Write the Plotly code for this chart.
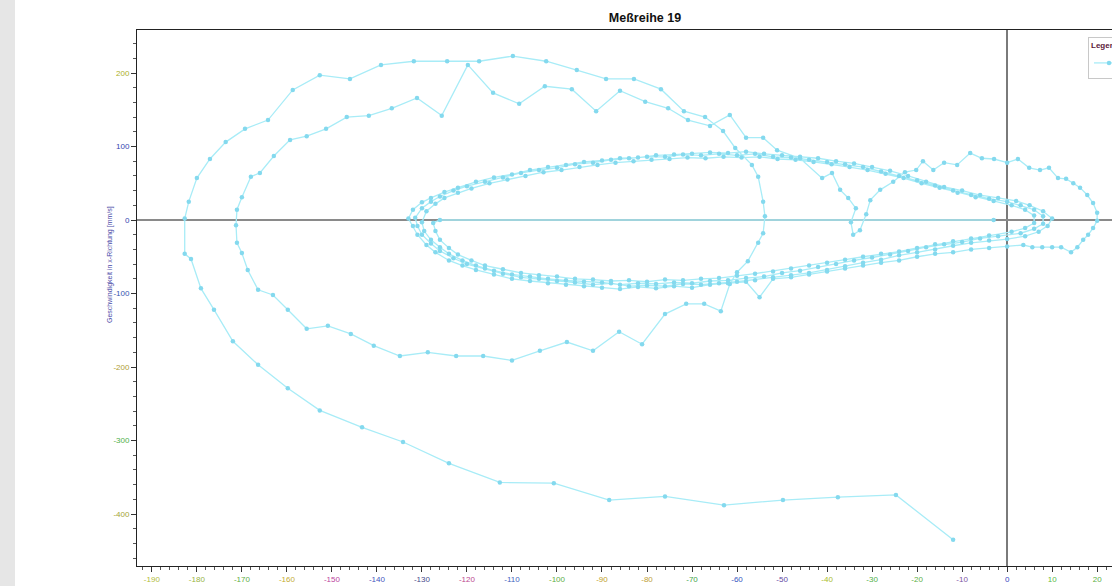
import plotly.graph_objects as go

# ---------------- data ----------------
# first swing: start bottom right, out to the left, back along the top
swing1_x = [-12.0, -24.7, -37.6, -49.8, -62.9, -76.0, -88.4, -100.7, -112.7, -124.0,
            -134.2, -143.3, -152.7, -159.8, -166.4, -172.0, -176.2, -179.1, -181.3, -182.7,
            -182.7, -181.8, -180.0, -177.1, -173.6, -169.3, -164.2, -158.7, -152.7, -146.0,
            -139.1, -131.8, -124.4, -117.3, -109.8, -102.4, -95.6, -89.1, -82.9, -76.9,
            -71.8, -67.1, -63.1, -60.4, -56.7, -55.3, -54.2, -53.8]
swing1_v = [-435, -374, -377, -381, -388, -376, -381, -358, -357, -331,
            -302, -282, -259, -229, -197, -165, -122, -93, -53, -46,
            2, 25, 57, 83, 106, 124, 136, 177, 197, 192,
            211, 216, 216, 216, 223, 216, 204, 192, 192, 178,
            148, 140, 121, 98, 75, 59, 25, 5]

# second swing: back to the left under the axis, then along the top again
swing2_x = [-54.2, -55.3, -57.6, -60.0, -61.6, -63.6, -67.3, -71.3, -76.0, -81.1,
            -86.2, -92.0, -97.8, -103.8, -110.0, -116.4, -122.4, -128.7, -134.9, -140.7,
            -145.8, -150.9, -155.6, -159.8, -163.1, -166.4, -168.7, -170.0, -171.1, -171.3,
            -171.1, -170.0, -168.0, -166.0, -162.9, -159.3, -155.6, -151.3, -146.7, -141.8,
            -136.7, -131.1, -125.6, -119.8, -114.2, -108.4, -102.7, -96.7, -91.3, -86.0,
            -80.4, -75.3, -70.9, -66.0, -61.6, -58.0, -54.2, -51.1, -46.0]
swing2_v = [-18, -31, -56, -71, -87, -124, -114, -114, -128, -169,
            -152, -178, -166, -178, -191, -185, -185, -180, -185, -171,
            -155, -144, -148, -122, -102, -95, -68, -45, -31, -7,
            14, 31, 59, 64, 87, 109, 114, 124, 140, 142,
            152, 166, 142, 211, 173, 158, 182, 178, 148, 176,
            161, 152, 136, 128, 143, 112, 112, 95, 84]

# kink near x = -35 and the right-hand cap out to +20
swing3_x = [-41.1, -38.9, -37.1, -35.3, -33.6, -34.7, -34.2, -32.7, -31.3, -30.4,
            -28.2, -25.3, -22.7, -20.2, -18.7, -16.4, -14.0, -11.1, -8.2, -5.6,
            -2.9, 0.0, 2.4, 4.9, 7.3, 9.3, 11.3, 13.1, 14.7, 16.2,
            17.8, 19.1, 20.0, 20.0, 19.1, 18.0, 16.9, 15.6, 14.2, 12.0,
            10.0, 7.8, 5.6, 3.6]
swing3_v = [57, 64, 41, 30, 16, -3, -20, -14, 8, 27,
            41, 52, 65, 68, 80, 68, 78, 75, 91, 84,
            83, 78, 83, 71, 68, 71, 57, 56, 50, 44,
            34, 23, 10, -1, -11, -20, -27, -37, -44, -37,
            -37, -37, -37, -34]

# dense inner ellipse, lap A
lapA_x = [0, -4, -8, -12, -16, -20, -24, -28, -32, -36,
          -40, -44, -48, -52, -55, -58, -62, -66, -70, -74,
          -78, -82, -86, -90, -94, -98, -102, -106, -110, -114,
          -118, -121, -124, -127, -129, -131, -132, -133,
          -132, -130, -128, -125, -122, -118, -114, -110, -106, -102,
          -98, -94, -90, -86, -82, -78, -74, -70, -66, -62,
          -58, -54, -50, -46, -42, -38, -34, -30, -26, -22,
          -18, -14, -10, -6, -2, 2, 5, 8, 10, 9,
          7, 4]
lapA_v = [-36, -38, -40, -44, -46, -50, -55, -58, -62, -66,
          -70, -74, -78, -80, -105, -84, -86, -88, -92, -90,
          -93, -91, -94, -92, -90, -88, -86, -83, -80, -74,
          -68, -62, -55, -44, -34, -20, -8, 2,
          14, 24, 30, 38, 44, 52, 58, 62, 68, 72,
          75, 79, 81, 84, 85, 88, 89, 90, 92, 91,
          93, 90, 88, 86, 84, 80, 77, 72, 67, 60,
          52, 45, 40, 34, 30, 26, 20, 12, 2, -8,
          -16, -22]

# lap B
lapB_x = [0, -4, -8, -12, -16, -20, -24, -28, -32, -36,
          -40, -44, -48, -52, -56, -60, -64, -68, -72, -76,
          -80, -84, -88, -92, -96, -100, -104, -108, -112, -116,
          -120, -123, -126, -128, -130, -131, -131.5,
          -130, -128, -126, -123, -120, -116, -112, -108, -104, -100,
          -96, -92, -88, -84, -80, -76, -72, -68, -64, -60,
          -56, -52, -48, -44, -40, -36, -32, -28, -24, -20,
          -16, -12, -8, -4, 0, 3, 6, 8, 8, 6,
          3]
lapB_v = [-26, -28, -31, -35, -40, -44, -48, -54, -58, -63,
          -68, -72, -75, -78, -82, -84, -86, -88, -87, -90,
          -89, -90, -86, -88, -85, -83, -80, -78, -73, -66,
          -60, -52, -42, -32, -20, -8, 3,
          16, 25, 32, 40, 46, 52, 58, 64, 68, 71,
          76, 78, 82, 84, 86, 86, 89, 88, 90, 88,
          90, 86, 85, 82, 79, 76, 72, 66, 60, 54,
          47, 40, 34, 29, 25, 20, 14, 5, -5, -12,
          -18]

# lap C
lapC_x = [-2, -6, -10, -14, -18, -22, -26, -30, -34, -38,
          -42, -46, -50, -54, -58, -62, -66, -70, -74, -78,
          -82, -86, -90, -94, -98, -102, -106, -110, -114, -118,
          -121, -124, -126, -128, -129.5, -130,
          -129, -127, -125, -122, -119, -115, -111, -107, -103, -99,
          -95, -91, -87, -83, -79, -75, -71, -67, -63, -59,
          -55, -51, -47, -43, -39, -35, -31, -27, -23, -19,
          -15, -11, -7, -3, 1, 4, 6, 6, 4, 1]
lapC_v = [-22, -25, -30, -33, -37, -42, -47, -51, -55, -60,
          -64, -69, -72, -77, -79, -82, -83, -86, -85, -87,
          -86, -88, -85, -84, -82, -80, -77, -74, -69, -62,
          -55, -46, -37, -27, -15, -3,
          12, 22, 30, 37, 43, 50, 55, 60, 65, 68,
          72, 75, 78, 80, 82, 83, 85, 84, 86, 85,
          86, 83, 82, 79, 76, 72, 68, 63, 57, 50,
          44, 37, 31, 26, 20, 14, 6, -4, -11, -16]

# lap D (last), ends with the jump along v = 0
lapD_x = [-4, -8, -12, -16, -20, -24, -28, -32, -36, -40,
          -44, -48, -52, -56, -60, -64, -68, -72, -76, -80,
          -84, -88, -92, -96, -100, -104, -108, -112, -116,
          -119, -122, -124, -126, -127, -127.5, -126, -3]
lapD_v = [-21, -25, -29, -33, -38, -43, -46, -50, -54, -58,
          -62, -66, -70, -73, -76, -79, -80, -82, -81, -84,
          -82, -83, -81, -80, -77, -75, -72, -67, -62,
          -55, -47, -38, -27, -15, -4, 0, 0]

x_ticks = list(range(-190, 21, 10))
x_tick_colors = ["#b2bc3c", "#98b444", "#5eae44", "#c4ac34", "#bc44a0", "#4454c0",
                 "#464a8c", "#bc4890", "#4464c0", "#5eae44", "#c0a028", "#c0a038",
                 "#44a448", "#3454c0", "#6448a4", "#aabc28", "#50b048", "#5cb044",
                 "#8054a4", "#3444c0", "#5cbc44", "#5cb044"]
y_ticks = [-400, -300, -200, -100, 0, 100, 200]
y_tick_colors = ["#a4a434", "#50b048", "#b0a034", "#3454b0", "#3444b0", "#3444b0", "#acb028"]

title_text = "Meßreihe 19"
y_title = "Geschwindigkeit in x-Richtung [mm/s]"
legend_title = "Legende"
series_name = "Meßreihe 19"

# ---------------- layout constants ----------------
W, H = 1112, 586
ML, MR, MT, MB = 137, 0, 30, 20
PW, PH = W - ML - MR, H - MT - MB

all_x = swing1_x + swing2_x + swing3_x + lapA_x + lapB_x + lapC_x + lapD_x
all_v = swing1_v + swing2_v + swing3_v + lapA_v + lapB_v + lapC_v + lapD_v

fig = go.Figure()
fig.add_trace(go.Scatter(
    x=all_x, y=all_v, mode="lines+markers", name=series_name,
    line=dict(color="#a8ecf7", width=1.3),
    marker=dict(color="#84d9ee", size=4.5, line=dict(width=0)),
))

def colored(vals, cols):
    return [f'<span style="color:{c}">{v}</span>' for v, c in zip(vals, cols)]

tickfont = dict(family="Liberation Sans, Arial, sans-serif", size=8)

fig.update_layout(
    width=W, height=H,
    margin=dict(l=ML, r=MR, t=MT, b=MB, autoexpand=False),
    paper_bgcolor="white", plot_bgcolor="white",
    title=dict(text=f"<b>{title_text}</b>", x=645 / W, xanchor="center",
               y=1 - 18 / H, yanchor="middle",
               font=dict(family="Liberation Sans, Arial, sans-serif", size=12.5, color="#111")),
    showlegend=True,
    legend=dict(x=(1088 - ML) / PW, y=(MT + PH - 37) / PH, xanchor="left", yanchor="top",
                bgcolor="white", bordercolor="#c8c8c8", borderwidth=1,
                title=dict(text=f"<b>{legend_title}</b>",
                           font=dict(family="Liberation Sans, Arial", size=8, color="#5a1838")),
                font=dict(family="Liberation Sans, Arial", size=8, color="#333")),
    xaxis=dict(range=[-193.3, 23.3], showgrid=False, zeroline=True, zerolinecolor="#7a7a7a",
               zerolinewidth=2, showline=True, linecolor="#222", linewidth=1, mirror=True,
               ticks="outside", ticklen=5, tickcolor="#333",
               tickvals=x_ticks, ticktext=colored(x_ticks, x_tick_colors), tickfont=tickfont,
               minor=dict(dtick=2, tick0=0, ticks="outside", ticklen=3, tickcolor="#555")),
    yaxis=dict(range=[-470.7, 258.5], showgrid=False, zeroline=True, zerolinecolor="#8a8a8a",
               zerolinewidth=2, showline=True, linecolor="#222", linewidth=1, mirror=False,
               ticks="outside", ticklen=5, tickcolor="#333",
               tickvals=y_ticks, ticktext=colored(y_ticks, y_tick_colors), tickfont=tickfont,
               minor=dict(dtick=20, tick0=0, ticks="outside", ticklen=3, tickcolor="#555")),
    shapes=[dict(type="rect", xref="paper", yref="paper",
                 x0=-ML / PW, x1=(15 - ML) / PW, y0=-MB / PH, y1=(PH + MT) / PH,
                 fillcolor="#e6e6e6", line=dict(width=0), layer="below")],
    annotations=[dict(text=y_title, xref="paper", yref="paper",
                      x=(110 - ML) / PW, y=(MT + PH - 265) / PH, xanchor="center", yanchor="middle",
                      textangle=-90, showarrow=False,
                      font=dict(family="Liberation Sans, Arial", size=7, color="#4a4aa8"))],
)

fig.write_html("out.html")
